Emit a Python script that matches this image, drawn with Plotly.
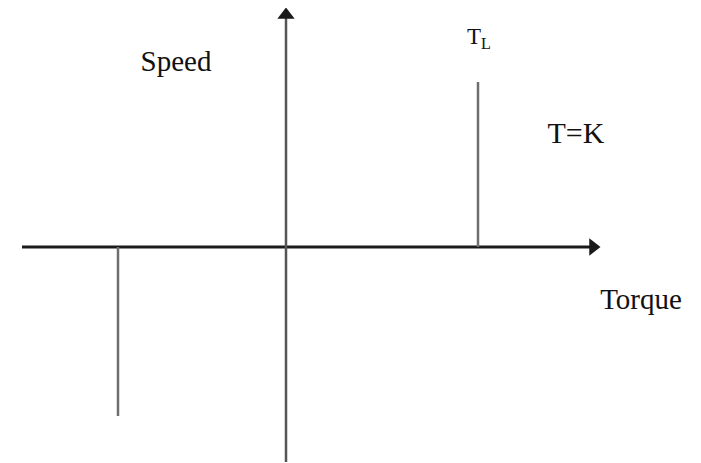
import plotly.graph_objects as go

# 座標系: 原点 = 軸の交点 (Torque 横軸, Speed 縦軸)
torque_axis = [-264, 314]      # 横軸の左端と矢印の先
speed_axis = [-215, 239]       # 縦軸の下端と矢印の先
load_torque = [-168, 192]      # 縦線の位置 (-T_L, T_L)
load_speed = [-169, 165]       # 縦線の端点 (横軸から)

labels = ["Speed", "T<sub>L</sub>", "T=K", "Torque"]
label_x = [-110, 193, 290, 355]
label_y = [183, 209, 112, -55]
label_size = [29, 23, 30, 29]

SERIF = "Liberation Serif, Times New Roman, serif"
HEAD = 7  # 矢印の三角形の半分

fig = go.Figure()

# 横軸・縦軸
fig.add_trace(go.Scatter(x=[torque_axis[0], torque_axis[1] - HEAD], y=[0, 0], mode="lines",
                         line=dict(color="#1a1a1a", width=3), hoverinfo="skip"))
fig.add_trace(go.Scatter(x=[0, 0], y=[speed_axis[0], speed_axis[1] - HEAD], mode="lines",
                         line=dict(color="#555555", width=2.5), hoverinfo="skip"))

# 矢印の先 (三角マーカー)
fig.add_trace(go.Scatter(x=[torque_axis[1] - HEAD], y=[0], mode="markers",
                         marker=dict(symbol="triangle-right", size=15, color="#1a1a1a"),
                         hoverinfo="skip"))
fig.add_trace(go.Scatter(x=[0], y=[speed_axis[1] - HEAD], mode="markers",
                         marker=dict(symbol="triangle-up", size=15, color="#1a1a1a"),
                         hoverinfo="skip"))

# T_L と -T_L の縦線
for t, s in zip(load_torque, load_speed):
    fig.add_trace(go.Scatter(x=[t, t], y=[0, s], mode="lines",
                             line=dict(color="#6e6e6e", width=2.5), hoverinfo="skip"))

# ラベル
fig.add_trace(go.Scatter(x=label_x, y=label_y, text=labels, mode="text",
                         textposition="middle center",
                         textfont=dict(family=SERIF, size=label_size, color="#111111"),
                         hoverinfo="skip"))

# ページのbody余白(8px)の分だけ図を小さくする
fig.update_layout(
    width=693, height=455,
    margin=dict(l=0, r=0, t=0, b=0),
    font=dict(family=SERIF),
    paper_bgcolor="white", plot_bgcolor="white",
    showlegend=False,
    xaxis=dict(range=[-278, 415], visible=False, fixedrange=True),
    yaxis=dict(range=[-216, 239], visible=False, fixedrange=True),
)

fig.write_html("out.html")
